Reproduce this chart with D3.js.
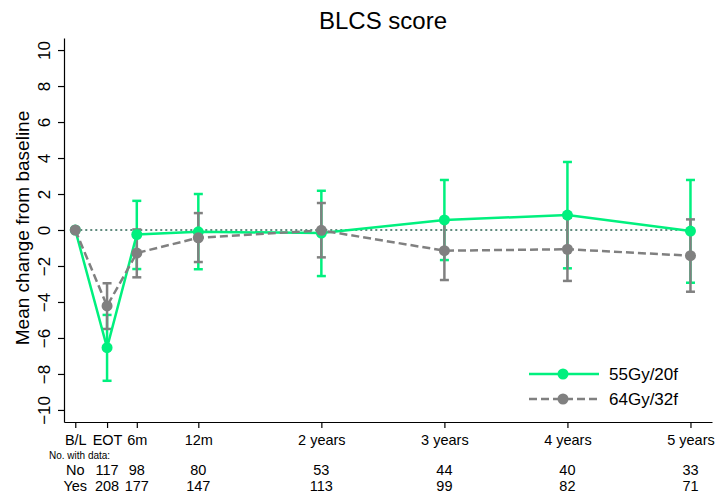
<!DOCTYPE html>
<html lang="en">
<head>
  <meta charset="UTF-8">
  <script src="https://d3js.org/d3.v7.min.js"></script>
  <title>BLCS score</title>
  <style>
    body { margin: 0; background: #fff; }
    text { font-family: "Liberation Sans", Arial, sans-serif; fill: #000; }
  </style>
</head>
<body>
  <svg width="715" height="496"></svg>

  <script>
    // time points (months from baseline; EOT sits ~3 months in)
    const timeLabels = ['B/L', 'EOT', '6m', '12m', '2 years', '3 years', '4 years', '5 years']
    const timeMonths = [0, 3.1, 6, 12, 24, 36, 48, 60]

    // 55Gy/20f
    const mean55 = [0, -6.54, -0.25, -0.1, -0.17, 0.56, 0.83, -0.06]
    const lo55 = [null, -8.38, -2.17, -2.18, -2.56, -1.67, -2.13, -2.93]
    const hi55 = [null, -4.72, 1.62, 2.0, 2.18, 2.78, 3.78, 2.78]

    // 64Gy/32f
    const mean64 = [0, -4.22, -1.28, -0.43, -0.02, -1.15, -1.07, -1.43]
    const lo64 = [null, -5.5, -2.63, -1.78, -1.52, -2.78, -2.83, -3.43]
    const hi64 = [null, -2.96, 0.03, 0.94, 1.5, 0.48, 0.69, 0.59]

    // numbers at risk
    const countsNo = [null, 117, 98, 80, 53, 44, 40, 33]
    const countsYes = [null, 208, 177, 147, 113, 99, 82, 71]

    const yTicks = [-10, -8, -6, -4, -2, 0, 2, 4, 6, 8, 10]

    const GREEN = '#00f07e'
    const GREY = '#808080'

    const svg = d3.select('svg')

    const x = d3.scaleLinear().domain([-1.1, 62.1]).range([64, 712])
    const y = d3.scaleLinear().domain([-10.67, 10.67]).range([422, 38])

    // title
    svg.append('text')
      .attr('x', 383).attr('y', 29)
      .attr('text-anchor', 'middle')
      .style('font-size', '24px')
      .text('BLCS score')

    // y axis
    const yAxis = svg.append('g')
      .attr('transform', `translate(${x.range()[0]},0)`)
      .call(d3.axisLeft(y).tickValues(yTicks).tickSize(6).tickSizeOuter(0))
    yAxis.select('.domain').attr('stroke', '#000').attr('stroke-width', 1.2)
    yAxis.selectAll('.tick line').attr('stroke', '#000').attr('stroke-width', 1.2)
    yAxis.selectAll('.tick text')
      .attr('transform', 'rotate(-90)')
      .attr('x', 0).attr('y', -14).attr('dy', 0)
      .attr('text-anchor', 'middle')
      .style('font-size', '17px')
      .style('font-family', '"Liberation Sans", Arial, sans-serif')

    svg.append('text')
      .attr('transform', 'translate(29,228) rotate(-90)')
      .attr('text-anchor', 'middle')
      .style('font-size', '19px')
      .text('Mean change from baseline')

    // x axis
    const xAxis = svg.append('g')
      .attr('transform', `translate(0,${y.range()[0]})`)
      .call(d3.axisBottom(x).tickValues(timeMonths).tickSize(6).tickSizeOuter(0)
        .tickFormat((d, i) => timeLabels[i]))
    xAxis.select('.domain').attr('stroke', '#000').attr('stroke-width', 1.2)
    xAxis.selectAll('.tick line').attr('stroke', '#000').attr('stroke-width', 1.2)
    xAxis.selectAll('.tick text')
      .attr('y', 23).attr('dy', 0)
      .style('font-size', '14.5px')
      .style('font-family', '"Liberation Sans", Arial, sans-serif')

    // numbers with data
    svg.append('text')
      .attr('x', 49).attr('y', 459)
      .style('font-size', '10px')
      .text('No. with data:')

    const rows = [['No', countsNo, 475], ['Yes', countsYes, 491]]
    rows.forEach(([label, counts, yy]) => {
      svg.append('text')
        .attr('x', x(timeMonths[0])).attr('y', yy)
        .attr('text-anchor', 'middle')
        .style('font-size', '14.5px')
        .text(label)
      svg.selectAll(null)
        .data(counts.map((c, i) => ({ c, t: timeMonths[i] })).filter(d => d.c !== null))
        .enter().append('text')
        .attr('x', d => x(d.t)).attr('y', yy)
        .attr('text-anchor', 'middle')
        .style('font-size', '14.5px')
        .text(d => d.c)
    })

    // reference line at zero
    svg.append('line')
      .attr('x1', x(0)).attr('x2', x(60))
      .attr('y1', y(0)).attr('y2', y(0))
      .attr('stroke', '#5f8a7d')
      .attr('stroke-width', 2)
      .attr('stroke-dasharray', '2,3')

    const series = [
      { mean: mean55, lo: lo55, hi: hi55, color: GREEN, dash: null },
      { mean: mean64, lo: lo64, hi: hi64, color: GREY, dash: '8,4' }
    ]

    // error bars
    series.forEach(s => {
      const bars = timeMonths.map((t, i) => ({ t, lo: s.lo[i], hi: s.hi[i] })).filter(d => d.lo !== null)
      const g = svg.append('g').attr('stroke', s.color).attr('stroke-width', 2.5)
      g.selectAll('.bar').data(bars).enter().append('line')
        .attr('x1', d => x(d.t)).attr('x2', d => x(d.t))
        .attr('y1', d => y(d.lo)).attr('y2', d => y(d.hi))
      ;['lo', 'hi'].forEach(k => {
        g.selectAll('.cap-' + k).data(bars).enter().append('line')
          .attr('x1', d => x(d.t) - 4.5).attr('x2', d => x(d.t) + 4.5)
          .attr('y1', d => y(d[k])).attr('y2', d => y(d[k]))
      })
    })

    // lines and markers
    series.forEach(s => {
      const pts = timeMonths.map((t, i) => ({ t, v: s.mean[i] }))
      svg.append('path')
        .datum(pts)
        .attr('fill', 'none')
        .attr('stroke', s.color)
        .attr('stroke-width', 2.5)
        .attr('stroke-dasharray', s.dash)
        .attr('d', d3.line().x(d => x(d.t)).y(d => y(d.v)))
      svg.selectAll(null).data(pts).enter().append('circle')
        .attr('cx', d => x(d.t)).attr('cy', d => y(d.v))
        .attr('r', 5.5)
        .attr('fill', s.color)
    })

    // legend
    const legend = [
      { label: '55Gy/20f', color: GREEN, dash: null, yy: 374 },
      { label: '64Gy/32f', color: GREY, dash: '8,4', yy: 399 }
    ]
    legend.forEach(l => {
      svg.append('line')
        .attr('x1', 529).attr('x2', 599)
        .attr('y1', l.yy).attr('y2', l.yy)
        .attr('stroke', l.color).attr('stroke-width', 2.5)
        .attr('stroke-dasharray', l.dash)
      svg.append('circle')
        .attr('cx', 563).attr('cy', l.yy).attr('r', 5.5)
        .attr('fill', l.color)
      svg.append('text')
        .attr('x', 609).attr('y', l.yy + 6)
        .style('font-size', '17px')
        .text(l.label)
    })
  </script>
</body>
</html>
